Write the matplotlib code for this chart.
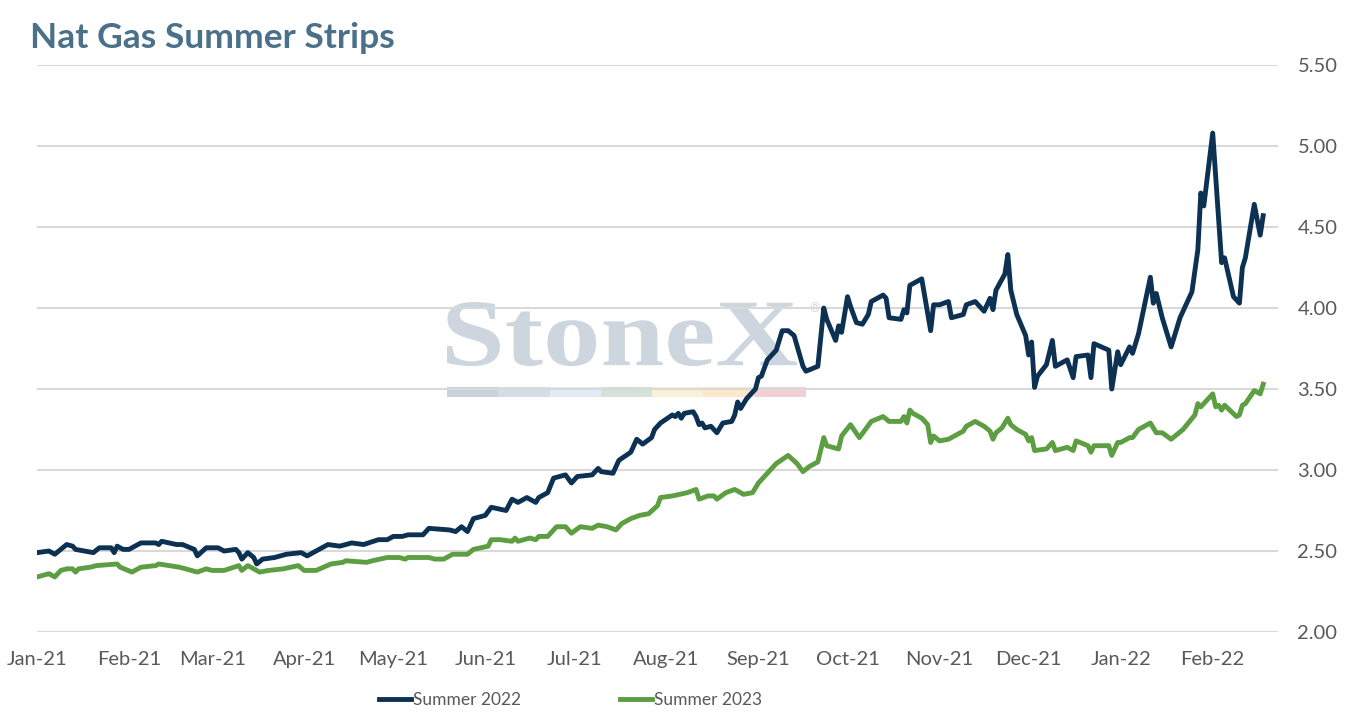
import pandas as pd
import matplotlib
matplotlib.use('Agg')
import matplotlib.pyplot as plt
import matplotlib.dates as mdates
from matplotlib.patches import Rectangle, PathPatch
from matplotlib.textpath import TextPath
from matplotlib.font_manager import FontProperties
from matplotlib.transforms import Affine2D

plt.rcParams['font.family'] = ['Lato', 'DejaVu Sans']

# Summer 2022 strip
dates_22 = [
    '2021-01-01', '2021-01-05', '2021-01-07', '2021-01-09', '2021-01-11', '2021-01-13', '2021-01-14',
    '2021-01-17', '2021-01-20', '2021-01-22', '2021-01-26', '2021-01-27', '2021-01-28', '2021-01-30',
    '2021-02-01', '2021-02-05', '2021-02-10', '2021-02-11', '2021-02-12', '2021-02-17', '2021-02-19',
    '2021-02-23', '2021-02-24', '2021-02-27', '2021-03-03', '2021-03-05', '2021-03-09', '2021-03-10',
    '2021-03-11', '2021-03-13', '2021-03-15', '2021-03-16', '2021-03-18', '2021-03-22', '2021-03-26',
    '2021-03-31', '2021-04-02', '2021-04-05', '2021-04-09', '2021-04-13', '2021-04-17', '2021-04-21',
    '2021-04-26', '2021-04-29', '2021-05-01', '2021-05-04', '2021-05-06', '2021-05-11', '2021-05-13',
    '2021-05-20', '2021-05-22', '2021-05-24', '2021-05-26', '2021-05-28', '2021-06-01', '2021-06-03',
    '2021-06-08', '2021-06-10', '2021-06-12', '2021-06-15', '2021-06-18', '2021-06-19', '2021-06-22',
    '2021-06-24', '2021-06-28', '2021-06-30', '2021-07-02', '2021-07-07', '2021-07-09', '2021-07-10',
    '2021-07-14', '2021-07-16', '2021-07-20', '2021-07-22', '2021-07-24', '2021-07-27', '2021-07-28',
    '2021-07-30', '2021-08-03', '2021-08-04', '2021-08-05', '2021-08-06', '2021-08-07', '2021-08-10',
    '2021-08-11', '2021-08-12', '2021-08-13', '2021-08-14', '2021-08-16', '2021-08-18', '2021-08-20',
    '2021-08-23', '2021-08-24', '2021-08-25', '2021-08-26', '2021-08-28', '2021-08-31', '2021-09-01',
    '2021-09-02', '2021-09-04', '2021-09-07', '2021-09-09', '2021-09-11', '2021-09-13', '2021-09-16',
    '2021-09-17', '2021-09-21', '2021-09-23', '2021-09-24', '2021-09-27', '2021-09-28', '2021-09-29',
    '2021-10-01', '2021-10-02', '2021-10-04', '2021-10-06', '2021-10-08', '2021-10-09', '2021-10-13',
    '2021-10-14', '2021-10-15', '2021-10-19', '2021-10-20', '2021-10-21', '2021-10-22', '2021-10-23',
    '2021-10-26', '2021-10-29', '2021-10-30', '2021-11-01', '2021-11-04', '2021-11-05', '2021-11-09',
    '2021-11-10', '2021-11-13', '2021-11-16', '2021-11-18', '2021-11-19', '2021-11-20', '2021-11-23',
    '2021-11-24', '2021-11-25', '2021-11-27', '2021-11-30', '2021-12-01', '2021-12-02', '2021-12-03',
    '2021-12-04', '2021-12-07', '2021-12-09', '2021-12-10', '2021-12-14', '2021-12-16', '2021-12-17',
    '2021-12-21', '2021-12-22', '2021-12-23', '2021-12-28', '2021-12-29', '2021-12-31', '2022-01-01',
    '2022-01-04', '2022-01-05', '2022-01-07', '2022-01-11', '2022-01-12', '2022-01-13', '2022-01-15',
    '2022-01-18', '2022-01-21', '2022-01-25', '2022-01-27', '2022-01-28', '2022-01-29', '2022-02-01',
    '2022-02-04', '2022-02-05', '2022-02-08', '2022-02-10', '2022-02-11', '2022-02-12', '2022-02-15',
    '2022-02-17', '2022-02-18',
]
summer_22 = [
    2.49, 2.50, 2.48, 2.51, 2.54, 2.53, 2.51,
    2.50, 2.49, 2.52, 2.52, 2.49, 2.53, 2.51,
    2.51, 2.55, 2.55, 2.54, 2.56, 2.54, 2.54,
    2.51, 2.47, 2.52, 2.52, 2.50, 2.51, 2.49,
    2.45, 2.49, 2.46, 2.42, 2.45, 2.46, 2.48,
    2.49, 2.47, 2.50, 2.54, 2.53, 2.55, 2.54,
    2.57, 2.57, 2.59, 2.59, 2.60, 2.60, 2.64,
    2.63, 2.62, 2.65, 2.62, 2.70, 2.72, 2.77,
    2.75, 2.82, 2.80, 2.83, 2.80, 2.83, 2.86,
    2.95, 2.97, 2.92, 2.96, 2.97, 3.01, 2.99,
    2.98, 3.06, 3.11, 3.19, 3.16, 3.20, 3.25,
    3.29, 3.34, 3.33, 3.35, 3.32, 3.35, 3.36,
    3.33, 3.28, 3.29, 3.26, 3.27, 3.23, 3.29,
    3.30, 3.34, 3.42, 3.38, 3.44, 3.50, 3.57,
    3.58, 3.68, 3.74, 3.86, 3.86, 3.83, 3.64,
    3.61, 3.64, 4.00, 3.93, 3.80, 3.89, 3.85,
    4.07, 4.01, 3.91, 3.90, 3.96, 4.04, 4.08,
    4.06, 3.94, 3.93, 3.99, 3.97, 4.14, 4.15,
    4.18, 3.86, 4.02, 4.02, 4.04, 3.94, 3.96,
    4.02, 4.04, 3.98, 4.06, 3.99, 4.11, 4.21,
    4.33, 4.11, 3.96, 3.83, 3.71, 3.79, 3.51,
    3.58, 3.65, 3.80, 3.64, 3.68, 3.57, 3.70,
    3.71, 3.57, 3.78, 3.74, 3.50, 3.73, 3.65,
    3.76, 3.72, 3.84, 4.19, 4.03, 4.09, 3.94,
    3.76, 3.94, 4.10, 4.36, 4.71, 4.63, 5.08,
    4.28, 4.31, 4.07, 4.03, 4.25, 4.31, 4.64,
    4.45, 4.57,
]

# Summer 2023 strip
dates_23 = [
    '2021-01-01', '2021-01-05', '2021-01-07', '2021-01-09', '2021-01-11', '2021-01-13', '2021-01-14',
    '2021-01-15', '2021-01-19', '2021-01-21', '2021-01-28', '2021-01-29', '2021-02-02', '2021-02-05',
    '2021-02-10', '2021-02-11', '2021-02-18', '2021-02-24', '2021-02-27', '2021-03-01', '2021-03-05',
    '2021-03-10', '2021-03-11', '2021-03-13', '2021-03-15', '2021-03-17', '2021-03-20', '2021-03-25',
    '2021-03-30', '2021-04-01', '2021-04-05', '2021-04-10', '2021-04-14', '2021-04-15', '2021-04-22',
    '2021-04-24', '2021-04-29', '2021-05-03', '2021-05-05', '2021-05-06', '2021-05-13', '2021-05-15',
    '2021-05-18', '2021-05-21', '2021-05-26', '2021-05-28', '2021-06-02', '2021-06-03', '2021-06-06',
    '2021-06-10', '2021-06-11', '2021-06-12', '2021-06-16', '2021-06-18', '2021-06-19', '2021-06-22',
    '2021-06-25', '2021-06-28', '2021-06-30', '2021-07-03', '2021-07-07', '2021-07-09', '2021-07-12',
    '2021-07-15', '2021-07-17', '2021-07-20', '2021-07-23', '2021-07-26', '2021-07-29', '2021-07-30',
    '2021-08-03', '2021-08-08', '2021-08-11', '2021-08-12', '2021-08-15', '2021-08-17', '2021-08-18',
    '2021-08-21', '2021-08-24', '2021-08-27', '2021-08-30', '2021-09-01', '2021-09-04', '2021-09-07',
    '2021-09-11', '2021-09-14', '2021-09-16', '2021-09-18', '2021-09-21', '2021-09-23', '2021-09-24',
    '2021-09-28', '2021-09-29', '2021-10-02', '2021-10-05', '2021-10-09', '2021-10-13', '2021-10-15',
    '2021-10-19', '2021-10-20', '2021-10-21', '2021-10-22', '2021-10-23', '2021-10-26', '2021-10-28',
    '2021-10-29', '2021-10-30', '2021-11-01', '2021-11-04', '2021-11-09', '2021-11-10', '2021-11-13',
    '2021-11-16', '2021-11-18', '2021-11-19', '2021-11-20', '2021-11-22', '2021-11-24', '2021-11-25',
    '2021-11-27', '2021-11-30', '2021-12-01', '2021-12-02', '2021-12-03', '2021-12-07', '2021-12-09',
    '2021-12-10', '2021-12-14', '2021-12-16', '2021-12-17', '2021-12-21', '2021-12-22', '2021-12-23',
    '2021-12-28', '2021-12-29', '2021-12-31', '2022-01-01', '2022-01-04', '2022-01-05', '2022-01-07',
    '2022-01-11', '2022-01-13', '2022-01-15', '2022-01-18', '2022-01-22', '2022-01-26', '2022-01-27',
    '2022-01-28', '2022-02-01', '2022-02-02', '2022-02-03', '2022-02-04', '2022-02-05', '2022-02-09',
    '2022-02-10', '2022-02-11', '2022-02-12', '2022-02-15', '2022-02-17', '2022-02-18',
]
summer_23 = [
    2.34, 2.36, 2.34, 2.38, 2.39, 2.39, 2.37,
    2.39, 2.40, 2.41, 2.42, 2.40, 2.37, 2.40,
    2.41, 2.42, 2.40, 2.37, 2.39, 2.38, 2.38,
    2.41, 2.38, 2.41, 2.39, 2.37, 2.38, 2.39,
    2.41, 2.38, 2.38, 2.42, 2.43, 2.44, 2.43,
    2.44, 2.46, 2.46, 2.45, 2.46, 2.46, 2.45,
    2.45, 2.48, 2.48, 2.51, 2.53, 2.57, 2.57,
    2.56, 2.58, 2.56, 2.58, 2.57, 2.59, 2.59,
    2.65, 2.65, 2.61, 2.65, 2.64, 2.66, 2.65,
    2.63, 2.67, 2.70, 2.72, 2.73, 2.78, 2.83,
    2.84, 2.86, 2.88, 2.82, 2.84, 2.84, 2.82,
    2.86, 2.88, 2.85, 2.86, 2.92, 2.98, 3.04,
    3.09, 3.04, 2.99, 3.02, 3.05, 3.20, 3.15,
    3.13, 3.21, 3.28, 3.20, 3.30, 3.33, 3.30,
    3.30, 3.33, 3.29, 3.37, 3.35, 3.32, 3.28,
    3.17, 3.21, 3.18, 3.19, 3.24, 3.27, 3.30,
    3.27, 3.24, 3.19, 3.23, 3.26, 3.32, 3.28,
    3.25, 3.22, 3.18, 3.20, 3.12, 3.13, 3.17,
    3.12, 3.14, 3.12, 3.18, 3.15, 3.11, 3.15,
    3.15, 3.09, 3.17, 3.17, 3.20, 3.20, 3.25,
    3.29, 3.23, 3.23, 3.19, 3.25, 3.34, 3.41,
    3.39, 3.47, 3.39, 3.40, 3.37, 3.40, 3.33,
    3.34, 3.40, 3.41, 3.49, 3.47, 3.53,
]

month_ticks = pd.date_range('2021-01-01', '2022-02-01', freq='MS')
y_ticks = [2.0, 2.5, 3.0, 3.5, 4.0, 4.5, 5.0, 5.5]

navy = '#0c3152'
green = '#5d9e42'
grey_text = '#595959'

fig = plt.figure(figsize=(13.45, 7.2), dpi=100)
ax = fig.add_axes([0.0275, 0.1222, 0.9227, 0.7875])

ax.plot(pd.to_datetime(dates_22), summer_22, color=navy, linewidth=3.5,
        label='Summer 2022', solid_joinstyle='round', zorder=3)
ax.plot(pd.to_datetime(dates_23), summer_23, color=green, linewidth=3.5,
        label='Summer 2023', solid_joinstyle='round', zorder=3)

ax.set_xlim(pd.Timestamp('2021-01-01'), pd.Timestamp('2022-02-23'))
ax.set_ylim(2.0, 5.5)
ax.set_xticks(month_ticks)
ax.xaxis.set_major_formatter(mdates.DateFormatter('%b-%y'))
ax.set_yticks(y_ticks)
ax.yaxis.set_major_formatter(matplotlib.ticker.FormatStrFormatter('%.2f'))
ax.yaxis.tick_right()
ax.tick_params(axis='both', length=0, labelsize=14.5, labelcolor=grey_text)
ax.tick_params(axis='x', pad=14)
ax.tick_params(axis='y', pad=14)
ax.grid(axis='y', color='#d9d9d9', linewidth=1.5)
ax.set_axisbelow(True)
for s in ax.spines.values():
    s.set_visible(False)

# StoneX watermark, stretched into its box in axes fraction
wm = TextPath((0, 0), 'StoneX', size=100, prop=FontProperties(family='Liberation Serif', weight='bold'))
ext = wm.get_extents()
x0, x1, y0, y1 = 0.3304, 0.6124, 0.469, 0.582
fit = Affine2D().translate(-ext.x0, -ext.y0).scale((x1 - x0) / ext.width, (y1 - y0) / ext.height).translate(x0, y0)
ax.add_patch(PathPatch(fit.transform_path(wm), transform=ax.transAxes,
                       facecolor='#cdd5de', edgecolor='none', zorder=0.3))
ax.text(0.6225, 0.565, '®', transform=ax.transAxes, fontsize=9,
        color='#d5dbe2', ha='left', va='baseline', zorder=0.3)
bar_colors = ['#c9d1da', '#d4dde7', '#e2ecf4', '#d3e3d9', '#f9f2da', '#fde8cc', '#f1d2d4']
seg_w = 0.0413
for i, c in enumerate(bar_colors):
    ax.add_patch(Rectangle((0.3305 + i * seg_w, 0.414), seg_w, 0.018, transform=ax.transAxes,
                           facecolor=c, edgecolor='none', zorder=0.3))

fig.text(30 / 1345, 1 - 48 / 720, 'Nat Gas Summer Strips', fontsize=25.5, fontweight='bold',
         color='#4b7089', ha='left', va='baseline')

leg = fig.legend(loc='center', bbox_to_anchor=(0.424, 1 - 700 / 720), ncol=2, frameon=False,
                 fontsize=12.5, handlelength=1.85, handletextpad=0.1, columnspacing=5.7)
for t in leg.get_texts():
    t.set_color(grey_text)

fig.savefig('out.png', dpi=100)
